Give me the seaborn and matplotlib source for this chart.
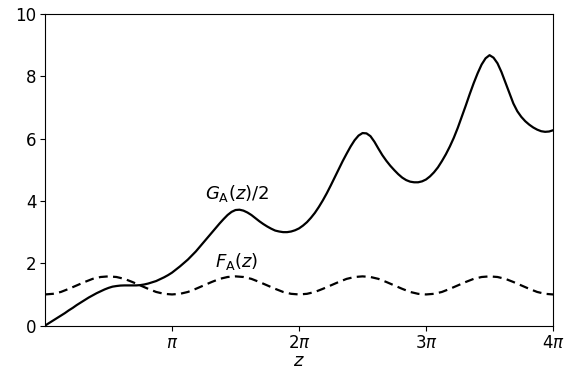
import numpy as np
import pandas as pd
import matplotlib
matplotlib.use("Agg")
import matplotlib.pyplot as plt
import seaborn as sns

# Sample positions for G_A(z)/2, in units of pi (step pi/32 over 0..4pi)
g_z_over_pi = [i / 32 for i in range(129)]

# G_A(z)/2 sampled at the positions above
g_half = [
    0.00, 0.08, 0.16, 0.24, 0.32, 0.40, 0.49, 0.57,
    0.66, 0.74, 0.82, 0.90, 0.97, 1.04, 1.10, 1.16,
    1.21, 1.25, 1.27, 1.285, 1.29, 1.29, 1.29, 1.29,
    1.30, 1.32, 1.35, 1.39, 1.43, 1.49, 1.55, 1.62,
    1.70, 1.80, 1.90, 2.01, 2.12, 2.25, 2.38, 2.53,
    2.68, 2.83, 2.98, 3.13, 3.28, 3.42, 3.55, 3.65,
    3.71, 3.72, 3.69, 3.63, 3.55, 3.45, 3.35, 3.26,
    3.18, 3.11, 3.05, 3.02, 3.00, 3.00, 3.02, 3.06,
    3.12, 3.21, 3.32, 3.46, 3.62, 3.81, 4.02, 4.25,
    4.50, 4.76, 5.02, 5.28, 5.52, 5.75, 5.95, 6.10,
    6.18, 6.17, 6.08, 5.90, 5.68, 5.47, 5.29, 5.13,
    4.99, 4.86, 4.75, 4.67, 4.62, 4.60, 4.60, 4.63,
    4.69, 4.79, 4.92, 5.08, 5.28, 5.50, 5.75, 6.03,
    6.35, 6.70, 7.06, 7.43, 7.78, 8.10, 8.38, 8.58,
    8.68, 8.60, 8.42, 8.14, 7.80, 7.45, 7.13, 6.88,
    6.70, 6.56, 6.45, 6.36, 6.29, 6.24, 6.22, 6.23,
    6.27,
]

# Sample positions for F_A(z), in units of pi (step pi/16 over 0..4pi)
f_z_over_pi = [i / 16 for i in range(65)]

# F_A(z) sampled at the positions above
f_a = [
    1.00, 1.02, 1.08, 1.18, 1.29, 1.40, 1.50, 1.56,
    1.58, 1.56, 1.50, 1.40, 1.29, 1.18, 1.08, 1.02,
    1.00, 1.02, 1.08, 1.18, 1.29, 1.40, 1.50, 1.56,
    1.58, 1.56, 1.50, 1.40, 1.29, 1.18, 1.08, 1.02,
    1.00, 1.02, 1.08, 1.18, 1.29, 1.40, 1.50, 1.56,
    1.58, 1.56, 1.50, 1.40, 1.29, 1.18, 1.08, 1.02,
    1.00, 1.02, 1.08, 1.18, 1.29, 1.40, 1.50, 1.56,
    1.58, 1.56, 1.50, 1.40, 1.29, 1.18, 1.08, 1.02,
    1.00,
]

x_ticks_pi = [1, 2, 3, 4]
x_tick_labels = [r"$\pi$", r"$2\pi$", r"$3\pi$", r"$4\pi$"]
y_ticks = [0, 2, 4, 6, 8, 10]

g_df = pd.DataFrame({"z": np.array(g_z_over_pi) * np.pi, "val": g_half})
f_df = pd.DataFrame({"z": np.array(f_z_over_pi) * np.pi, "val": f_a})

fig = plt.figure(figsize=(5.77, 3.70), dpi=100)
ax = fig.add_axes([0.078, 0.120, 0.8805, 0.842])

sns.lineplot(data=g_df, x="z", y="val", ax=ax, color="black", linewidth=1.6)
sns.lineplot(data=f_df, x="z", y="val", ax=ax, color="black", linewidth=1.6,
             dashes=False)
ax.lines[-1].set_dashes((4.0, 2.4))

ax.set_xlim(0, 4 * np.pi)
ax.set_ylim(0, 10)
ax.set_xticks(np.array(x_ticks_pi) * np.pi)
ax.set_xticklabels(x_tick_labels)
ax.set_yticks(y_ticks)
ax.tick_params(labelsize=12, pad=2.5)
ax.set_xlabel(r"$z$", fontsize=13, labelpad=0)
ax.set_ylabel("")

ax.text(1.51 * np.pi, 4.25, r"$G_\mathrm{A}(z)/2$", fontsize=13,
        ha="center", va="center")
ax.text(1.51 * np.pi, 2.07, r"$F_\mathrm{A}(z)$", fontsize=13,
        ha="center", va="center")

fig.savefig("out.png", dpi=100)
